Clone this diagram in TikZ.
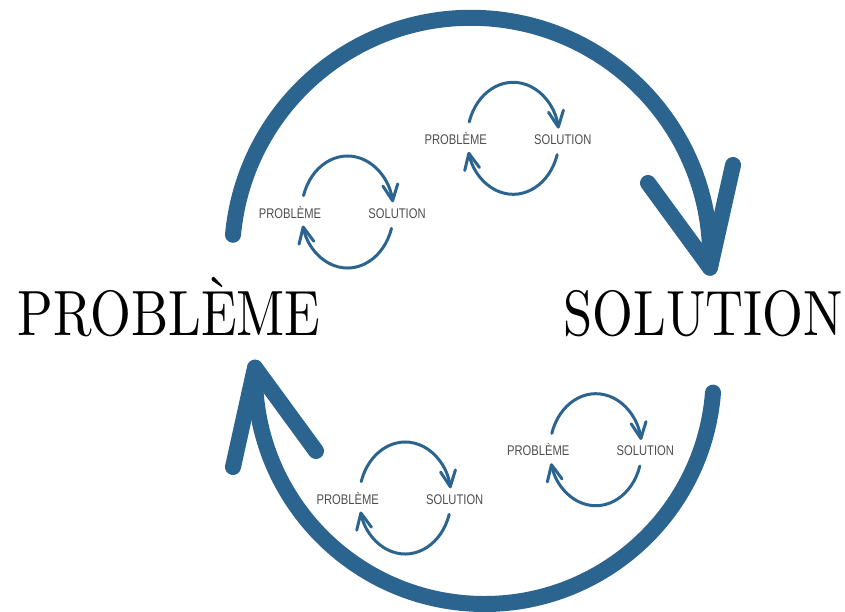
\documentclass[tikz,border=0pt]{standalone}
\usepackage{fontspec}
\usetikzlibrary{arrows.meta,calc}
\newfontfamily\kbigfont{lmroman10-regular.otf}[FakeStretch=0.82]
\newfontfamily\ksmallfont{Liberation Sans}[FakeStretch=0.8]
\definecolor{kblue}{HTML}{2C6490}
\definecolor{ktext}{HTML}{4D4D4D}
\tikzset{
  bigtxt/.style={anchor=base,inner sep=0pt,font=\kbigfont\fontsize{64}{64}\selectfont},
  smalltxt/.style={anchor=base,inner sep=0pt,text=ktext,font=\ksmallfont\fontsize{14}{14}\selectfont},
  bigarc/.style={draw=kblue,line width=16pt,line cap=round,line join=round},
  smallarc/.style={draw=kblue,line width=3pt,line cap=round,-{Straight Barb[length=16pt,width=15pt,round]}},
}
\begin{document}
\begin{tikzpicture}[x=1pt,y=-1pt]
\useasboundingbox (0,0) rectangle (845,611);
\pgfmathsetmacro{\krx}{46}
\pgfmathsetmacro{\kry}{56}
\pgfmathsetmacro{\kgap}{107}
\node[bigtxt] (p0) at (169,335) {PROBLÈME};
\node[bigtxt] (s0) at (703,335) {SOLUTION};
\coordinate (ta) at (233,234.8);
\coordinate (tb) at (710,267.7);
\coordinate (tl) at (648,183);
\coordinate (tr) at (733,165);
\coordinate (ba) at (713,392.6);
\coordinate (bb) at (255,367.6);
\coordinate (bl) at (233,467);
\coordinate (br) at (316,451);
\draw[bigarc] (ta) arc[start angle=185.3,end angle=362.6,radius=239.1];
\draw[bigarc] (tl) -- (tb) -- (tr);
\draw[bigarc] (ba) arc[start angle=4.5,end angle=181.75,radius=229.4];
\draw[bigarc] (bl) -- (bb) -- (br);
%\draw[gray,dashed] (p0) -- (s0);
\foreach \kn/\kx/\ky in {1/290/218,2/455.7/144.3,3/538.3/455.7,4/347.7/504}{
  \node[smalltxt] (p\kn) at (\kx,\ky) {PROBLÈME};
  \node[smalltxt] (s\kn) at (\kx+\kgap,\ky) {SOLUTION};
  \coordinate (c\kn) at (\kx+57.5,\ky-6);
  \draw[smallarc] ($(c\kn)+({\krx*cos(197)},{\kry*sin(197)})$) arc[start angle=197,end angle=350,x radius=\krx,y radius=\kry];
  \draw[smallarc] ($(c\kn)+({\krx*cos(17)},{\kry*sin(17)})$) arc[start angle=17,end angle=166,x radius=\krx,y radius=\kry];
}
\end{tikzpicture}
\end{document}
